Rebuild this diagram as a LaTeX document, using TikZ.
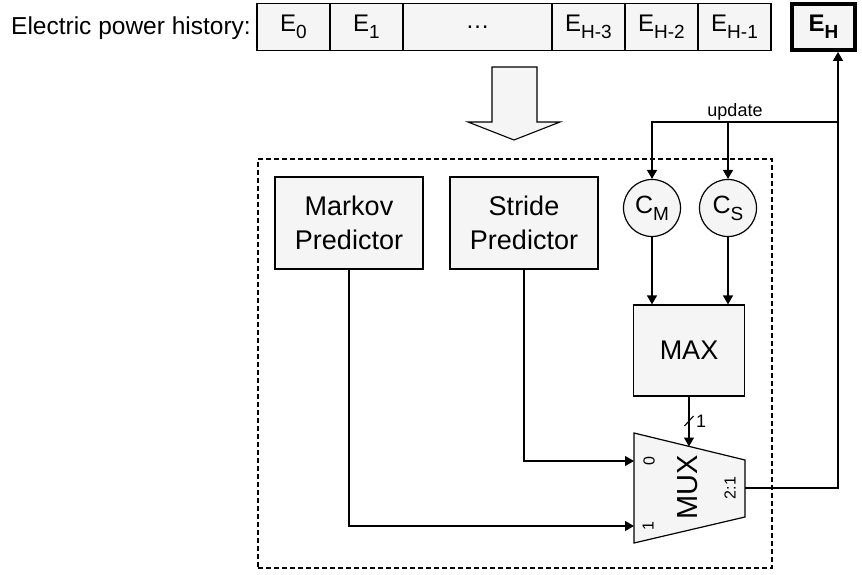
\documentclass[tikz,border=0pt]{standalone}
\usepackage{fontspec}
\setmainfont{Liberation Sans}
\usetikzlibrary{arrows.meta,calc}
\definecolor{boxfill}{HTML}{F5F5F5}
\newcommand\sbs[1]{\raisebox{-7pt}{\fontsize{19}{19}\selectfont #1}}
\newcommand\sbsb[1]{\raisebox{-7pt}{\fontsize{19}{19}\selectfont\bfseries #1}}
\begin{document}
\begin{tikzpicture}[x=1pt,y=-1pt,
  box/.style={draw, fill=boxfill, line width=1.2pt, inner sep=0pt, align=center},
  cell/.style={box, minimum width=73pt, minimum height=47pt, font=\fontsize{24}{27}\selectfont},
  pred/.style={box, minimum width=148pt, minimum height=92pt, font=\fontsize{27}{34}\selectfont},
  cnt/.style={box, circle, minimum size=57pt, font=\fontsize{25}{28}\selectfont},
  arr/.style={-{Triangle[length=9pt,width=10pt]}, line width=1.3pt},
  small/.style={font=\fontsize{16}{16}\selectfont, inner sep=0pt}
]
\useasboundingbox (0,0) rectangle (862,575);

% history bar
\node[anchor=east, inner sep=0pt, font=\fontsize{24.5}{28}\selectfont] (title) at (251,28) {Electric power history:};
\node[cell] (e0) at (293.5,27) {E\sbs{0}};
\node[cell] (e1) at (366.5,27) {E\sbs{1}};
\node[cell, minimum width=149pt] (edots) at (477.5,27) {\dots};
\node[cell] (e3) at (588.5,27) {E\sbs{H-3}};
\node[cell] (e2) at (661.5,27) {E\sbs{H-2}};
\node[cell] (e1b) at (734.5,27) {E\sbs{H-1}};
\node[box, line width=3.8pt, minimum width=63pt, minimum height=46pt, font=\fontsize{24}{27}\selectfont\bfseries] (eh) at (823.5,27) {E\sbsb{H}};

% hollow arrow
\draw[fill=boxfill, line width=1.1pt] (492,67) -- (537,67) -- (537,122) -- (560,122) -- (514,140) -- (468,122) -- (492,122) -- cycle;

% dashed frame
\node[draw, dash pattern=on 5pt off 3pt, line width=1.3pt, minimum width=514pt, minimum height=409pt, inner sep=0pt] (frame) at (515,363.5) {};

% predictors
\node[pred] (markov) at (349,223) {Markov\\Predictor};
\node[pred] (stride) at (524,223) {Stride\\Predictor};

% counters
\node[cnt] (cm) at (652,208) {C\sbs{M}};
\node[cnt] (cs) at (728,208) {C\sbs{S}};

% max
\node[box, minimum width=111pt, minimum height=91pt, font=\fontsize{27}{30}\selectfont] (max) at (689,350.5) {MAX};

% mux
\draw[fill=boxfill, line width=1.2pt] (634,433) -- (745,460) -- (745,517) -- (634,543) -- cycle;
\coordinate (mux0) at (634,461);
\coordinate (mux1) at (634,526);
\coordinate (muxs) at (689,446.5);
\coordinate (muxo) at (745,488);
\node[rotate=90, inner sep=0pt, font=\fontsize{29}{29}\selectfont] (muxlabel) at (688,487) {MUX};
\node[small, rotate=90] (l0) at (649,461) {0};
\node[small, rotate=90] (l1) at (648,526) {1};
\node[small, rotate=90] (l21) at (730,488) {2:1};

% connectors
\draw[arr] (markov.south) |- (mux1);
\draw[arr] (stride.south) |- (mux0);
\draw[arr] (cm.south) -- (cm.south |- max.north);
\draw[arr] (cs.south) -- (cs.south |- max.north);
\draw[arr] (max.south) -- (muxs);
\draw[line width=1.1pt] (684.5,426) -- (693.5,416);
\node[font=\fontsize{18}{18}\selectfont, anchor=west, inner sep=0pt] (bus) at (696,421) {1};

\coordinate (upd) at (838,122);
\draw[arr] (muxo) -| (eh.south -| upd);
\draw[arr] (upd) -| (cm.north);
\draw[arr] (cs.north |- upd) -- (cs.north);
\node[anchor=south, inner sep=1pt, font=\fontsize{18}{18}\selectfont] (updlabel) at (735,121) {update};
\end{tikzpicture}
\end{document}
